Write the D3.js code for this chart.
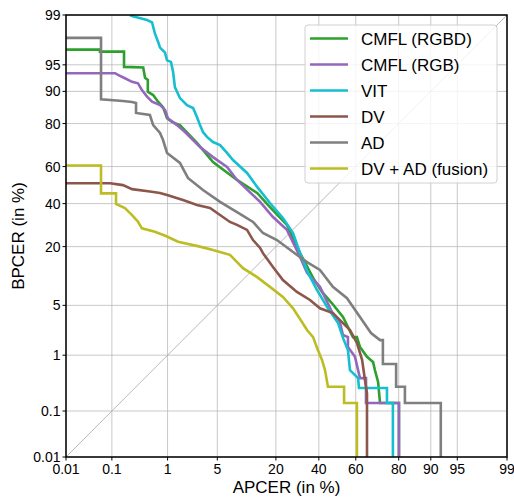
<!DOCTYPE html>
<html>
<head>
<meta charset="utf-8">
<script src="https://cdn.jsdelivr.net/npm/d3@7"></script>
<style>
  body { margin: 0; background: #fff; }
  svg text { font-family: "Liberation Sans", Arial, sans-serif; fill: #000; }
</style>
</head>
<body>
<svg id="chart" width="514" height="498"></svg>
<script>
// tick values (in %), same for both axes
var ticks = [0.01, 0.1, 1, 5, 20, 40, 60, 80, 90, 95, 99];

// curves: APCER (x) / BPCER (y) in %
var cmflRgbdX = [0.01, 0.057, 0.057, 0.173, 0.173, 0.39, 0.42, 0.47, 0.47, 0.58, 0.70, 0.845, 0.98, 1.17, 1.55, 2.72, 4.42, 8.46, 13.6, 17.8, 24.5, 30.5, 37.0, 41.7, 47.1, 53.1, 58.5, 60.6, 62.2, 65.8, 68.8, 69.7, 71.2, 72.1, 80.1, 80.1];
var cmflRgbdY = [96.8, 96.8, 96.6, 96.6, 94.7, 94.6, 92.9, 92.5, 89.9, 89.1, 87.3, 85.7, 82.0, 80.6, 79.4, 71.8, 62.4, 52.8, 45.7, 38.2, 29.3, 17.6, 10.2, 7.2, 5.3, 3.56, 1.88, 1.88, 1.34, 0.94, 0.78, 0.57, 0.355, 0.144, 0.144, 0.01];

var cmflRgbX = [0.01, 0.116, 0.132, 0.18, 0.245, 0.315, 0.37, 0.455, 0.555, 0.755, 0.91, 1.01, 1.40, 1.84, 2.40, 2.99, 4.42, 6.53, 8.46, 14.5, 18.9, 24.5, 30.5, 33.9, 40.6, 47.1, 51.5, 53.1, 55.8, 55.8, 59.6, 61.2, 62.2, 65.3, 65.3, 80.1, 80.1];
var cmflRgbY = [93.7, 93.7, 93.4, 92.8, 92.1, 91.8, 90.3, 88.7, 87.3, 86.3, 84.8, 82.0, 79.4, 76.6, 73.1, 69.9, 64.9, 59.8, 52.8, 40.9, 33.1, 27.0, 16.3, 11.5, 8.2, 4.13, 2.97, 2.02, 1.88, 1.34, 0.94, 0.57, 0.415, 0.415, 0.144, 0.144, 0.01];

var vitX = [0.224, 0.245, 0.455, 0.555, 0.62, 0.70, 0.755, 0.91, 0.98, 1.13, 1.22, 1.30, 1.55, 1.97, 2.40, 2.72, 2.99, 3.28, 3.70, 4.42, 5.4, 6.53, 7.64, 10.8, 13.6, 17.8, 22.8, 27.2, 30.5, 34.4, 39.0, 44.4, 50.4, 53.1, 55.8, 56.9, 61.2, 61.7, 75.2, 75.2, 77.7, 77.7];
var vitY = [99, 98.96, 98.8, 98.7, 98.1, 97.5, 97.0, 96.5, 95.6, 95.4, 93.9, 91.0, 88.3, 86.3, 85.4, 82.4, 79.4, 76.6, 74.5, 72.2, 70.8, 67.0, 63.4, 56.6, 49.0, 40.3, 32.6, 25.6, 17.6, 11.5, 7.6, 4.8, 2.97, 1.83, 1.20, 0.57, 0.415, 0.276, 0.276, 0.144, 0.144, 0.01];

var dvX = [0.01, 0.092, 0.165, 0.245, 0.51, 0.755, 0.98, 1.72, 2.72, 4.05, 5.4, 7.06, 8.46, 10.8, 12.4, 14.5, 15.4, 18.9, 22.8, 29.0, 35.4, 40.6, 47.6, 55.3, 56.9, 60.6, 63.3, 64.8, 65.8, 65.8];
var dvY = [51.0, 51.0, 50.0, 47.8, 46.5, 45.7, 44.6, 41.9, 39.3, 37.7, 34.1, 30.7, 29.3, 27.0, 22.6, 19.5, 17.6, 13.1, 9.7, 7.2, 5.8, 4.6, 4.0, 2.6, 2.37, 1.54, 0.84, 0.38, 0.22, 0.01];

var adX = [0.01, 0.06, 0.06, 0.165, 0.245, 0.29, 0.29, 0.51, 0.58, 0.755, 0.845, 0.98, 1.55, 2.03, 3.28, 5.4, 8.46, 12.4, 15.4, 20.4, 27.2, 33.9, 40.6, 47.6, 55.3, 62.2, 67.8, 72.1, 73.4, 73.4, 79.0, 79.0, 82.3, 82.3, 92.2, 92.2];
var adY = [97.8, 97.8, 88.0, 87.5, 87.2, 86.9, 83.8, 83.1, 79.4, 76.2, 73.1, 67.0, 61.9, 53.9, 47.3, 40.9, 35.6, 30.7, 25.6, 22.6, 18.0, 14.6, 12.3, 8.2, 6.1, 3.56, 2.15, 1.70, 1.70, 0.72, 0.72, 0.29, 0.29, 0.144, 0.144, 0.01];

var fusionX = [0.01, 0.060, 0.060, 0.121, 0.121, 0.18, 0.245, 0.315, 0.37, 0.62, 0.94, 1.45, 2.99, 4.42, 7.06, 9.8, 13.6, 17.8, 22.8, 27.2, 31.4, 33.9, 37.0, 39.5, 41.7, 43.3, 44.9, 53.7, 53.7, 60.6, 60.6];
var fusionY = [60.6, 60.6, 45.5, 45.5, 39.8, 37.7, 34.1, 30.8, 27.7, 26.2, 24.3, 21.9, 20.0, 18.7, 17.0, 12.8, 10.4, 8.2, 6.3, 4.6, 3.05, 2.37, 1.88, 1.20, 0.84, 0.57, 0.29, 0.29, 0.144, 0.144, 0.01];

var names = ["CMFL (RGBD)", "CMFL (RGB)", "VIT", "DV", "AD", "DV + AD (fusion)"];
var colors = ["#2ca02c", "#9467bd", "#17becf", "#8c564b", "#7f7f7f", "#bcbd22"];
var xs = [cmflRgbdX, cmflRgbX, vitX, dvX, adX, fusionX];
var ys = [cmflRgbdY, cmflRgbY, vitY, dvY, adY, fusionY];

// inverse normal cdf (Acklam)
function probit(p) {
  var a = [-3.969683028665376e+01, 2.209460984245205e+02, -2.759285104469687e+02, 1.383577518672690e+02, -3.066479806614716e+01, 2.506628277459239e+00];
  var b = [-5.447609879822406e+01, 1.615858368580409e+02, -1.556989798598866e+02, 6.680131188771972e+01, -1.328068155288572e+01];
  var c = [-7.784894002430293e-03, -3.223964580411365e-01, -2.400758277161838e+00, -2.549671010312356e+00, 4.374664141464968e+00, 2.938163982698783e+00];
  var d = [7.784695709041462e-03, 3.224671290700398e-01, 2.445134137142996e+00, 3.754408661907416e+00];
  var pl = 0.02425, q, r;
  if (p < pl) {
    q = Math.sqrt(-2 * Math.log(p));
    return (((((c[0]*q+c[1])*q+c[2])*q+c[3])*q+c[4])*q+c[5]) / ((((d[0]*q+d[1])*q+d[2])*q+d[3])*q+1);
  } else if (p <= 1 - pl) {
    q = p - 0.5; r = q*q;
    return (((((a[0]*r+a[1])*r+a[2])*r+a[3])*r+a[4])*r+a[5])*q / (((((b[0]*r+b[1])*r+b[2])*r+b[3])*r+b[4])*r+1);
  }
  q = Math.sqrt(-2 * Math.log(1 - p));
  return -(((((c[0]*q+c[1])*q+c[2])*q+c[3])*q+c[4])*q+c[5]) / ((((d[0]*q+d[1])*q+d[2])*q+d[3])*q+1);
}

var margin = {left: 66, right: 7, top: 15, bottom: 41};
var width = 514 - margin.left - margin.right;
var height = 498 - margin.top - margin.bottom;

var svg = d3.select("#chart");
var g = svg.append("g").attr("transform", "translate(" + margin.left + "," + margin.top + ")");

var zx = d3.scaleLinear().domain([probit(0.0001), probit(0.99)]).range([0, width]);
var zy = d3.scaleLinear().domain([probit(0.0001), probit(0.99)]).range([height, 0]);
var x = function(v) { return zx(probit(v / 100)); };
var y = function(v) { return zy(probit(v / 100)); };

// grid
g.append("g").selectAll("line").data(ticks).enter().append("line")
  .attr("x1", d => x(d)).attr("x2", d => x(d))
  .attr("y1", 0).attr("y2", height)
  .attr("stroke", "#b0b0b0").attr("stroke-opacity", 0.7).attr("stroke-width", 1);
g.append("g").selectAll("line").data(ticks).enter().append("line")
  .attr("y1", d => y(d)).attr("y2", d => y(d))
  .attr("x1", 0).attr("x2", width)
  .attr("stroke", "#b0b0b0").attr("stroke-opacity", 0.7).attr("stroke-width", 1);

// diagonal
g.append("line")
  .attr("x1", x(0.01)).attr("y1", y(0.01))
  .attr("x2", x(99)).attr("y2", y(99))
  .attr("stroke", "#b0b0b0").attr("stroke-width", 0.9);

g.append("clipPath").attr("id", "clip")
  .append("rect").attr("width", width).attr("height", height);

var line = d3.line()
  .x(d => x(d[0]))
  .y(d => y(d[1]));

var curves = g.append("g").attr("clip-path", "url(#clip)");
names.forEach(function(n, i) {
  var pts = d3.zip(xs[i], ys[i]);
  curves.append("path")
    .datum(pts)
    .attr("d", line)
    .attr("fill", "none")
    .attr("stroke", colors[i])
    .attr("stroke-width", 2.6)
    .attr("stroke-linejoin", "miter");
});

// frame
g.append("rect").attr("width", width).attr("height", height)
  .attr("fill", "none").attr("stroke", "#000").attr("stroke-width", 1.5);

// ticks + labels
var fmt = function(d) { return String(d); };
var xt = g.append("g");
ticks.forEach(function(t) {
  xt.append("line").attr("x1", x(t)).attr("x2", x(t))
    .attr("y1", height).attr("y2", height + 3.5).attr("stroke", "#000").attr("stroke-width", 1);
  xt.append("text").attr("x", x(t)).attr("y", height + 17)
    .attr("text-anchor", "middle").style("font-size", "14px").text(fmt(t));
  xt.append("line").attr("y1", y(t)).attr("y2", y(t))
    .attr("x1", -3.5).attr("x2", 0).attr("stroke", "#000").attr("stroke-width", 1);
  xt.append("text").attr("x", -5.5).attr("y", y(t) + 5)
    .attr("text-anchor", "end").style("font-size", "14px").text(fmt(t));
});

// axis labels
svg.append("text").attr("x", margin.left + width / 2).attr("y", 493)
  .attr("text-anchor", "middle").style("font-size", "17px").text("APCER (in %)");
svg.append("text")
  .attr("transform", "translate(24," + (margin.top + height / 2) + ") rotate(-90)")
  .attr("text-anchor", "middle").style("font-size", "17px").text("BPCER (in %)");

// legend
var lg = svg.append("g").attr("transform", "translate(305,25)");
lg.append("rect").attr("width", 192).attr("height", 158).attr("rx", 3)
  .attr("fill", "#fff").attr("fill-opacity", 0.8)
  .attr("stroke", "#d0d0d0").attr("stroke-width", 1);
names.forEach(function(n, i) {
  var yy = 13.5 + i * 26;
  lg.append("line").attr("x1", 5).attr("x2", 43).attr("y1", yy).attr("y2", yy)
    .attr("stroke", colors[i]).attr("stroke-width", 2.6);
  lg.append("text").attr("x", 56).attr("y", yy + 6)
    .style("font-size", "17px").text(n);
});
</script>
</body>
</html>
